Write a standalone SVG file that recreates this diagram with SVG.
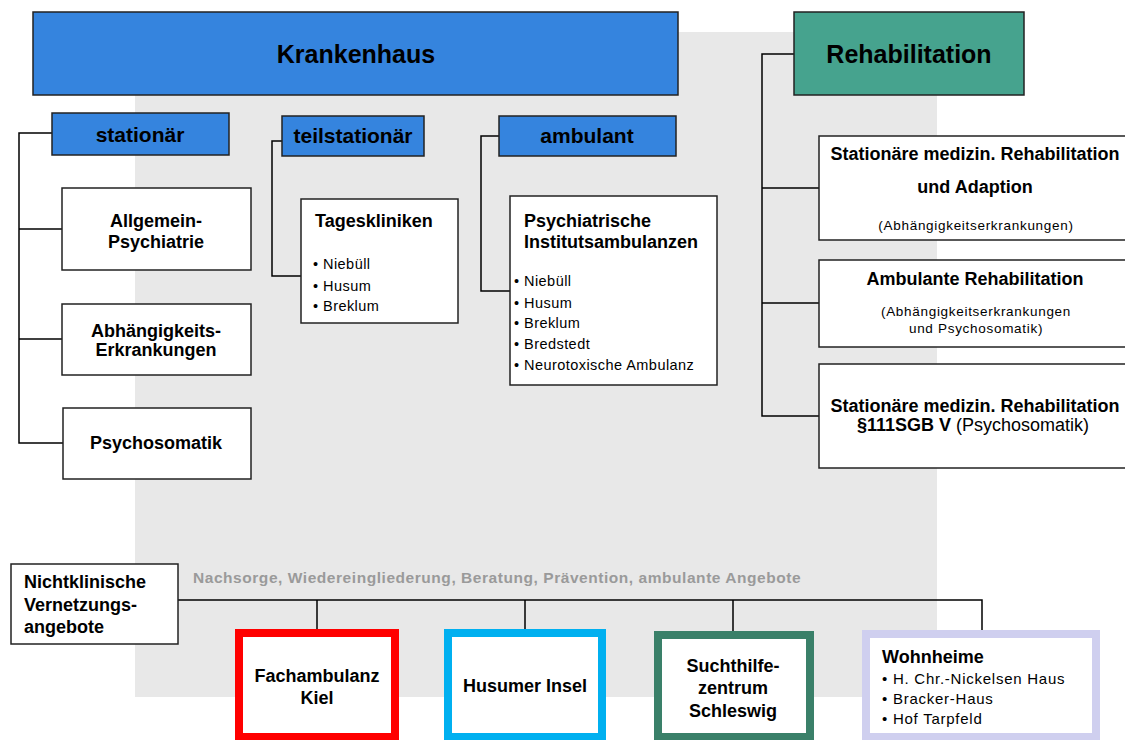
<svg xmlns="http://www.w3.org/2000/svg" width="1125" height="740" viewBox="0 0 1125 740">
<style>
text{font-family:"Liberation Sans",Arial,sans-serif;fill:#000}
.b{font-weight:bold}
.t25{font-size:25px;font-weight:bold}
.t21{font-size:21px;font-weight:bold}
.t18{font-size:18px;font-weight:bold}
.r{font-size:14.5px;letter-spacing:0.45px}
.s{font-size:13.5px;letter-spacing:0.7px}
.w{font-size:15px;letter-spacing:0.75px}
.c{text-anchor:middle}
.blue{fill:#3584DE;stroke:#222;stroke-width:1.5}
.teal{fill:#46A38E;stroke:#222;stroke-width:1.5}
.box{fill:#fff;stroke:#222;stroke-width:1.5}
.conn{fill:none;stroke:#000;stroke-width:1.5}
</style>
<rect x="135" y="32" width="802" height="665" fill="#E8E8E8"/>
<g id="connectors">
<polyline class="conn" points="52,133 19,133 19,443 63,443"/>
<line class="conn" x1="19" y1="229" x2="62" y2="229"/>
<line class="conn" x1="19" y1="339" x2="62" y2="339"/>
<polyline class="conn" points="282,141 272,141 272,276 301,276"/>
<polyline class="conn" points="499,136 481,136 481,291 510,291"/>
<polyline class="conn" points="794,54 762,54 762,416 819,416"/>
<line class="conn" x1="762" y1="188" x2="819" y2="188"/>
<line class="conn" x1="762" y1="303" x2="819" y2="303"/>
<polyline class="conn" points="178,600 982,600 982,630"/>
<line class="conn" x1="317" y1="600" x2="317" y2="629"/>
<line class="conn" x1="525" y1="600" x2="525" y2="629"/>
<line class="conn" x1="733" y1="600" x2="733" y2="631"/>
</g>
<g id="krankenhaus"><rect class="blue" x="33" y="12" width="645" height="83"/><text class="t25 c" x="356" y="63">Krankenhaus</text></g>
<g id="rehabilitation"><rect class="teal" x="794" y="12" width="230" height="83"/><text class="t25 c" x="909" y="63">Rehabilitation</text></g>
<g id="stationaer"><rect class="blue" x="52" y="113" width="177" height="42"/><text class="t21 c" x="140" y="142">stationär</text></g>
<g id="teilstationaer"><rect class="blue" x="282" y="116" width="142" height="40"/><text class="t21 c" x="353" y="143">teilstationär</text></g>
<g id="ambulant"><rect class="blue" x="499" y="116" width="177" height="40"/><text class="t21 c" x="587" y="143">ambulant</text></g>
<g id="allgemein"><rect class="box" x="62" y="188" width="189" height="82"/><text class="t18 c" x="156" y="227">Allgemein-</text><text class="t18 c" x="156" y="248">Psychiatrie</text></g>
<g id="abhaengigkeit"><rect class="box" x="62" y="304" width="189" height="71"/><text class="t18 c" x="156" y="337">Abhängigkeits-</text><text class="t18 c" x="156" y="356">Erkrankungen</text></g>
<g id="psychosomatik"><rect class="box" x="63" y="408" width="188" height="71"/><text class="t18 c" x="156" y="449">Psychosomatik</text></g>
<g id="tageskliniken"><rect class="box" x="301" y="199" width="157" height="124"/><text class="t18" x="315" y="227">Tageskliniken</text><text class="r" x="313" y="269">• Niebüll</text><text class="r" x="313" y="291">• Husum</text><text class="r" x="313" y="311">• Breklum</text></g>
<g id="pia"><rect class="box" x="510" y="196" width="207" height="189"/><text class="t18" x="524" y="227">Psychiatrische</text><text class="t18" x="524" y="248">Institutsambulanzen</text><text class="r" x="514" y="286">• Niebüll</text><text class="r" x="514" y="308">• Husum</text><text class="r" x="514" y="328">• Breklum</text><text class="r" x="514" y="349">• Bredstedt</text><text class="r" x="514" y="370">• Neurotoxische Ambulanz</text></g>
<g id="reha1"><rect class="box" x="819" y="136" width="316" height="104"/><text class="t18 c" x="975" y="160">Stationäre medizin. Rehabilitation</text><text class="t18 c" x="975" y="193">und Adaption</text><text class="s c" x="976" y="230">(Abhängigkeitserkrankungen)</text></g>
<g id="reha2"><rect class="box" x="819" y="260" width="316" height="87"/><text class="t18 c" x="975" y="285">Ambulante Rehabilitation</text><text class="s c" x="976" y="316">(Abhängigkeitserkrankungen</text><text class="s c" x="976" y="333">und Psychosomatik)</text></g>
<g id="reha3"><rect class="box" x="819" y="364" width="316" height="104"/><text class="t18 c" x="975" y="412">Stationäre medizin. Rehabilitation</text><text class="c" x="973" y="431" style="font-size:18px"><tspan class="b">§111SGB V</tspan> (Psychosomatik)</text></g>
<g id="nichtklinisch"><rect class="box" x="11" y="564" width="167" height="80"/><text class="t18" x="24" y="588">Nichtklinische</text><text class="t18" x="24" y="611">Vernetzungs-</text><text class="t18" x="24" y="633">angebote</text></g>
<text class="b" x="193" y="583" style="font-size:15.5px;letter-spacing:0.55px;fill:#9A9A9A">Nachsorge, Wiedereingliederung, Beratung, Prävention, ambulante Angebote</text>
<g id="fachambulanz"><rect x="239" y="633" width="156" height="104" fill="#fff" stroke="#FF0000" stroke-width="8"/><text class="t18 c" x="317" y="682">Fachambulanz</text><text class="t18 c" x="317" y="704">Kiel</text></g>
<g id="husumer"><rect x="448" y="633" width="154" height="104" fill="#fff" stroke="#00B0F0" stroke-width="8"/><text class="t18 c" x="525" y="692">Husumer Insel</text></g>
<g id="suchthilfe"><rect x="658" y="635" width="152" height="102" fill="#fff" stroke="#3A8069" stroke-width="8"/><text class="t18 c" x="733" y="672">Suchthilfe-</text><text class="t18 c" x="733" y="694">zentrum</text><text class="t18 c" x="733" y="717">Schleswig</text></g>
<g id="wohnheime"><rect x="866" y="634" width="230" height="103" fill="#fff" stroke="#CFCFEF" stroke-width="8"/><text class="t18" x="882" y="663">Wohnheime</text><text class="w" x="882" y="684">• H. Chr.-Nickelsen Haus</text><text class="w" x="882" y="704">• Bracker-Haus</text><text class="w" x="882" y="724">• Hof Tarpfeld</text></g>
</svg>
